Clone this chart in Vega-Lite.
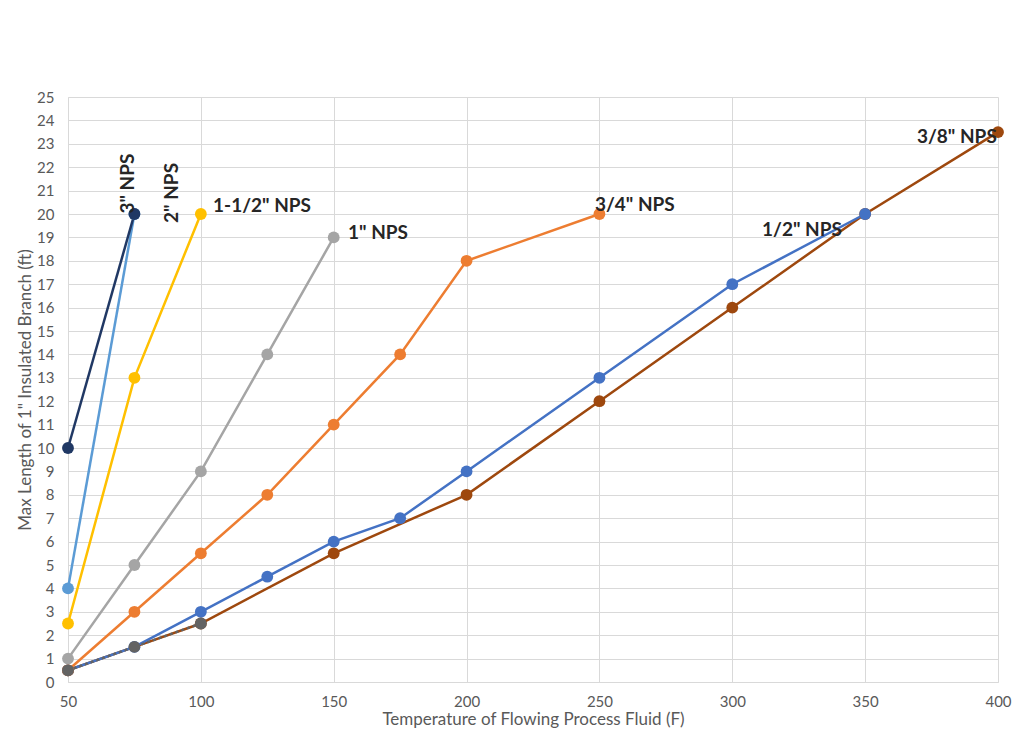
{
  "$schema": "https://vega.github.io/schema/vega-lite/v6.json",
  "width": 930,
  "height": 585,
  "autosize": "none",
  "padding": {"left": 68, "top": 97, "right": 17, "bottom": 56},
  "background": "white",
  "config": {
    "view": {"stroke": null},
    "axis": {"labelFont": "Lato", "titleFont": "Lato", "labelColor": "#595959", "titleColor": "#595959", "labelFontSize": 15, "titleFontSize": 17, "titleFontWeight": "normal", "gridColor": "#D9D9D9", "gridWidth": 1, "domainColor": "#D9D9D9", "ticks": false, "labelOverlap": false, "labelFlush": false}
  },
  "datasets": {
    "series": [
      {"series": "3/8\" NPS", "temp": 50, "len": 0.5},
      {"series": "3/8\" NPS", "temp": 75, "len": 1.5},
      {"series": "3/8\" NPS", "temp": 100, "len": 2.5},
      {"series": "3/8\" NPS", "temp": 150, "len": 5.5},
      {"series": "3/8\" NPS", "temp": 200, "len": 8},
      {"series": "3/8\" NPS", "temp": 250, "len": 12},
      {"series": "3/8\" NPS", "temp": 300, "len": 16},
      {"series": "3/8\" NPS", "temp": 350, "len": 20},
      {"series": "3/8\" NPS", "temp": 400, "len": 23.5},
      {"series": "1/2\" NPS", "temp": 50, "len": 0.5},
      {"series": "1/2\" NPS", "temp": 75, "len": 1.5},
      {"series": "1/2\" NPS", "temp": 100, "len": 3},
      {"series": "1/2\" NPS", "temp": 125, "len": 4.5},
      {"series": "1/2\" NPS", "temp": 150, "len": 6},
      {"series": "1/2\" NPS", "temp": 175, "len": 7},
      {"series": "1/2\" NPS", "temp": 200, "len": 9},
      {"series": "1/2\" NPS", "temp": 250, "len": 13},
      {"series": "1/2\" NPS", "temp": 300, "len": 17},
      {"series": "1/2\" NPS", "temp": 350, "len": 20},
      {"series": "3/4\" NPS", "temp": 50, "len": 0.5},
      {"series": "3/4\" NPS", "temp": 75, "len": 3},
      {"series": "3/4\" NPS", "temp": 100, "len": 5.5},
      {"series": "3/4\" NPS", "temp": 125, "len": 8},
      {"series": "3/4\" NPS", "temp": 150, "len": 11},
      {"series": "3/4\" NPS", "temp": 175, "len": 14},
      {"series": "3/4\" NPS", "temp": 200, "len": 18},
      {"series": "3/4\" NPS", "temp": 250, "len": 20},
      {"series": "1\" NPS", "temp": 50, "len": 1},
      {"series": "1\" NPS", "temp": 75, "len": 5},
      {"series": "1\" NPS", "temp": 100, "len": 9},
      {"series": "1\" NPS", "temp": 125, "len": 14},
      {"series": "1\" NPS", "temp": 150, "len": 19},
      {"series": "1-1/2\" NPS", "temp": 50, "len": 2.5},
      {"series": "1-1/2\" NPS", "temp": 75, "len": 13},
      {"series": "1-1/2\" NPS", "temp": 100, "len": 20},
      {"series": "2\" NPS", "temp": 50, "len": 4},
      {"series": "2\" NPS", "temp": 75, "len": 20},
      {"series": "3\" NPS", "temp": 50, "len": 10},
      {"series": "3\" NPS", "temp": 75, "len": 20},
      {"series": "1/4\" NPS", "temp": 50, "len": 0.5},
      {"series": "1/4\" NPS", "temp": 75, "len": 1.5},
      {"series": "1/4\" NPS", "temp": 100, "len": 2.5}
    ],
    "labels": [
      {"text": "3\" NPS", "temp": 72.6, "len": 21.3, "angle": 270},
      {"text": "2\" NPS", "temp": 89.1, "len": 20.9, "angle": 270},
      {"text": "1-1/2\" NPS", "temp": 104.6, "len": 20.35, "angle": 0},
      {"text": "1\" NPS", "temp": 155.4, "len": 19.2, "angle": 0},
      {"text": "3/4\" NPS", "temp": 248.3, "len": 20.4, "angle": 0},
      {"text": "1/2\" NPS", "temp": 311.2, "len": 19.3, "angle": 0},
      {"text": "3/8\" NPS", "temp": 369.5, "len": 23.3, "angle": 0}
    ]
  },
  "encoding": {
    "x": {"field": "temp", "type": "quantitative", "scale": {"domain": [50, 400], "nice": false, "zero": false},
      "axis": {"values": [50, 100, 150, 200, 250, 300, 350, 400], "title": "Temperature of Flowing Process Fluid (F)", "labelPadding": 12, "titlePadding": 2}},
    "y": {"field": "len", "type": "quantitative", "scale": {"domain": [0, 25], "nice": false},
      "axis": {"values": [0,1,2,3,4,5,6,7,8,9,10,11,12,13,14,15,16,17,18,19,20,21,22,23,24,25], "title": "Max Length of 1\" Insulated Branch (ft)", "labelPadding": 14, "titlePadding": 2, "labelOverlap": false}}
  },
  "layer": [
    {
      "data": {"name": "series"},
      "transform": [{"filter": "datum.series !== '1/4\" NPS'"}],
      "mark": {"type": "line", "strokeWidth": 2.5},
      "encoding": {
        "color": {"field": "series", "type": "nominal", "legend": null,
          "scale": {"domain": ["3/8\" NPS", "1/2\" NPS", "3/4\" NPS", "1\" NPS", "1-1/2\" NPS", "2\" NPS", "3\" NPS", "1/4\" NPS"],
            "range": ["#9E480E", "#4472C4", "#ED7D31", "#A5A5A5", "#FFC000", "#5B9BD5", "#203864", "#636363"]}},
        "detail": {"field": "series"}
      }
    },
    {
      "data": {"name": "series"},
      "transform": [{"filter": "datum.series === '1/4\" NPS'"}],
      "mark": {"type": "line", "strokeWidth": 2.5, "strokeDash": [3, 3], "color": "#636363"},
      "encoding": {}
    },
    {
      "data": {"name": "series"},
      "transform": [{"filter": "!(datum.series === '3/8\" NPS' && datum.temp === 75)"}],
      "mark": {"type": "point", "filled": true, "size": 140, "opacity": 1},
      "encoding": {
        "color": {"field": "series", "type": "nominal", "legend": null}
      }
    },
    {
      "data": {"name": "labels"},
      "transform": [{"filter": "datum.angle === 270"}],
      "mark": {"type": "text", "font": "Lato", "fontWeight": "bold", "fontSize": 19, "color": "#262626", "baseline": "middle", "align": "center", "angle": 270},
      "encoding": {
        "text": {"field": "text"}
      }
    },
    {
      "data": {"name": "labels"},
      "transform": [{"filter": "datum.angle === 0"}],
      "mark": {"type": "text", "font": "Lato", "fontWeight": "bold", "fontSize": 19, "color": "#262626", "baseline": "middle", "align": "left"},
      "encoding": {
        "text": {"field": "text"}
      }
    }
  ]
}
